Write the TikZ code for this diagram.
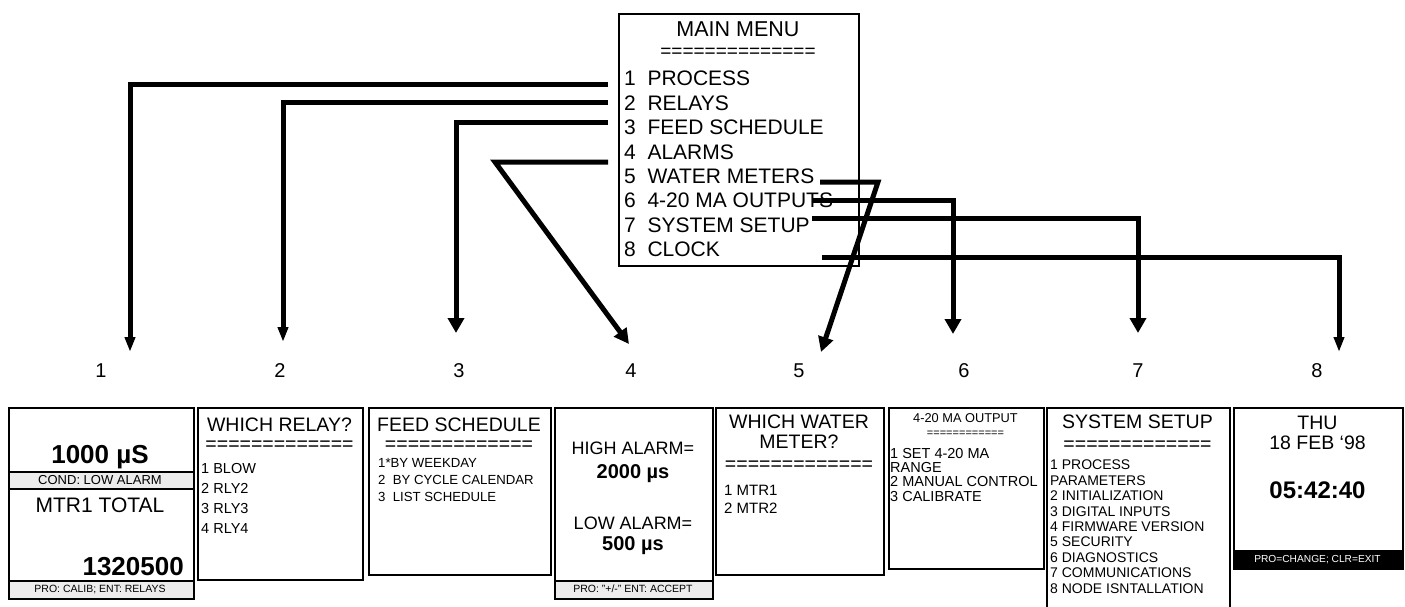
\documentclass[tikz,border=0pt]{standalone}
\usepackage{fontspec}
\setmainfont{Liberation Sans}
\usetikzlibrary{arrows.meta}
\definecolor{bandgray}{RGB}{236,236,236}

\begin{document}
\begin{tikzpicture}[x=1pt, y=-1pt,
    txt/.style={inner sep=0pt, text depth=0pt},
    fs/.style={txt, font=\fontsize{#1}{#1}\selectfont},
    fb/.style={txt, font=\fontsize{#1}{#1}\selectfont\bfseries},
    list/.style={inner sep=0pt, anchor=north west, align=left},
    screen/.style={draw=black, line width=2.4pt, fill=white, anchor=north west, inner sep=0pt},
    band/.style={screen, fill=bandgray},
    link/.style={line width=5pt, -{Triangle[width=#1,length=15pt]}},
    link/.default=15pt]
    \useasboundingbox (0,0) rectangle (1405,607);

    % main menu
    \node[draw=black, line width=2pt, minimum width=240pt, minimum height=252pt, anchor=north west, inner sep=0pt] (menu) at (618,13) {};
    \node[fs=21.5] (mtitle) at (738,29) {MAIN MENU};
    \node[fs=19] (mline) at (738,53) {==============};
    \foreach \t [count=\i] in {PROCESS,RELAYS,FEED SCHEDULE,ALARMS,WATER METERS,4-20 MA OUTPUTS,SYSTEM SETUP,CLOCK}
        \node[fs=21, anchor=west] (m\i) at (624,{78.5+24.4*(\i-1)}) {\i~~\t};

    % screen numbers
    \foreach \i/\x in {1/101,2/280,3/459,4/631,5/799,6/964,7/1138,8/1317}
        \node[fs=20] (l\i) at (\x,371) {\i};

    % connector ends
    \coordinate (a1) at (608,85);   \coordinate (t1) at (130,352);
    \coordinate (a2) at (608,103);  \coordinate (t2) at (283,342);
    \coordinate (a3) at (608,123);  \coordinate (t3) at (456,333);
    \coordinate (a4) at (608,162);  \coordinate (c4) at (495,162);  \coordinate (t4) at (629,344);
    \coordinate (a5) at (820,182);  \coordinate (c5) at (878,182);  \coordinate (t5) at (821,352);
    \coordinate (a6) at (813,200);  \coordinate (t6) at (953,334);
    \coordinate (a7) at (812,218);  \coordinate (t7) at (1138,333);
    \coordinate (a8) at (822,257);  \coordinate (t8) at (1339,352);

    \draw[link=10pt] (a1) -| (t1);
    \draw[link=10pt] (a2) -| (t2);
    \draw[link=16pt] (a3) -| (t3);
    \draw[link] (a4) -- (c4) -- (t4);
    \draw[link] (a5) -- (c5) -- (t5);
    \draw[link=16pt] (a6) -| (t6);
    \draw[link=16pt] (a7) -| (t7);
    \draw[link=10pt] (a8) -| (t8);

    % screen 1
    \node[screen, minimum width=185pt, minimum height=191pt] (s1) at (8,407) {};
    \node[band, minimum width=185pt, minimum height=17pt] (s1a) at (8,471) {};
    \node[band, minimum width=185pt, minimum height=18pt] (s1b) at (8,580) {};
    \node[fb=26] at (100,454) {1000 µS};
    \node[fs=13] at (100,479.5) {COND: LOW ALARM};
    \node[fs=21] at (100,505) {MTR1 TOTAL};
    \node[fb=26, anchor=east] at (184,566) {1320500};
    \node[fs=10.5] at (100,589) {PRO: CALIB; ENT: RELAYS};

    % screen 2
    \node[screen, minimum width=165pt, minimum height=172pt] (s2) at (197,407) {};
    \node[fs=19.5] at (279.5,425) {WHICH RELAY?};
    \node[fs=19.5] at (279.5,446) {=============};
    \node[list, font=\fontsize{14.5}{20}\selectfont] at (201,462.8) {1 BLOW\\2 RLY2\\3 RLY3\\4 RLY4};

    % screen 3
    \node[screen, minimum width=182pt, minimum height=167pt] (s3) at (368,407) {};
    \node[fs=19.5] at (459,425) {FEED SCHEDULE};
    \node[fs=19.5] at (459,446) {=============};
    \node[list, font=\fontsize{13.2}{17}\selectfont] at (378,458.3) {1*BY WEEKDAY\\2~~BY CYCLE CALENDAR\\3~~LIST SCHEDULE};

    % screen 4
    \node[screen, minimum width=158pt, minimum height=191pt] (s4) at (554,407) {};
    \node[band, minimum width=158pt, minimum height=18pt] (s4a) at (554,580) {};
    \node[fs=18] at (633,448) {HIGH ALARM=};
    \node[fb=20] at (633,472) {2000 µs};
    \node[fs=18] at (633,523) {LOW ALARM=};
    \node[fb=20] at (633,544) {500 µs};
    \node[fs=10.5] at (633,589) {PRO: "+/-" ENT: ACCEPT};

    % screen 5
    \node[screen, minimum width=168pt, minimum height=167pt] (s5) at (715,407) {};
    \node[fs=19.5] at (799,422) {WHICH WATER};
    \node[fs=19.5] at (799,442) {METER?};
    \node[fs=19.5] at (799,466) {=============};
    \node[list, font=\fontsize{15}{18}\selectfont] at (724,484.6) {1 MTR1\\2 MTR2};

    % screen 6
    \node[screen, minimum width=155pt, minimum height=161pt] (s6) at (888,407) {};
    \node[fs=12.8] at (965.5,418) {4-20 MA OUTPUT};
    \node[fs=11] at (965.5,434) {============};
    \node[list, font=\fontsize{14.5}{14.4}\selectfont] at (890,447.8) {1 SET 4-20 MA\\RANGE\\2 MANUAL CONTROL\\3 CALIBRATE};

    % screen 7 (runs off the page)
    \node[screen, minimum width=183pt, minimum height=210pt] (s7) at (1046,407) {};
    \node[fs=19.5] at (1137.5,422) {SYSTEM SETUP};
    \node[fs=19.5] at (1137.5,446) {=============};
    \node[list, font=\fontsize{14}{15.4}\selectfont] at (1050,460) {1 PROCESS\\PARAMETERS\\2 INITIALIZATION\\3 DIGITAL INPUTS\\4 FIRMWARE VERSION\\5 SECURITY\\6 DIAGNOSTICS\\7 COMMUNICATIONS\\8 NODE ISNTALLATION};

    % screen 8
    \node[screen, line width=2pt, minimum width=169pt, minimum height=161pt] (s8) at (1233,407) {};
    \node[screen, line width=2pt, fill=black, minimum width=169pt, minimum height=18pt] (s8a) at (1233,550) {};
    \node[fs=19.5] at (1317.5,423) {THU};
    \node[fs=19.5] at (1317.5,443) {18 FEB ‘98};
    \node[fb=24] at (1317.5,490) {05:42:40};
    \node[fs=10.2, text=white] at (1317.5,559) {PRO=CHANGE; CLR=EXIT};
\end{tikzpicture}
\end{document}
